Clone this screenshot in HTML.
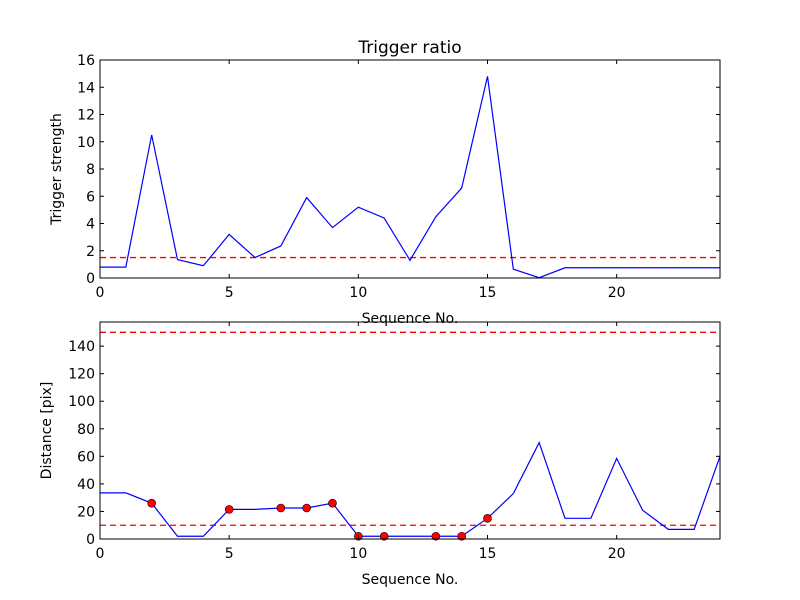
<!DOCTYPE html>
<html><head><meta charset="utf-8"><style>
body{margin:0;background:#fff}
svg{display:block;font-family:"DejaVu Sans","Liberation Sans",sans-serif}
</style></head><body>
<svg id="chart" width="800" height="600" viewBox="0 0 800 600"></svg>
<script>
const seqNos=[0,1,2,3,4,5,6,7,8,9,10,11,12,13,14,15,16,17,18,19,20,21,22,23,24];
const triggerStrength=[0.8,0.8,10.5,1.35,0.9,3.2,1.5,2.35,5.9,3.7,5.2,4.4,1.3,4.5,6.6,14.8,0.65,0.02,0.75,0.75,0.75,0.75,0.75,0.75,0.75];
const triggerThreshold=[1.5];
const distances=[33.5,33.5,26,2,2,21.5,21.5,22.5,22.5,26,2,2,2,2,2,15,33,70,15,15,58.5,21,7,7,60];
const distThresholds=[150,10];
const markedIdx=[2,5,7,8,9,10,11,13,14,15];
const xTicks=[0,5,10,15,20];
const yTicksTop=[0,2,4,6,8,10,12,14,16];
const yTicksBot=[0,20,40,60,80,100,120,140];

const NS="http://www.w3.org/2000/svg";
const svg=document.getElementById('chart');
function mk(tag,attrs,parent){const e=document.createElementNS(NS,tag);for(const k in attrs)e.setAttribute(k,attrs[k]);(parent||svg).appendChild(e);return e;}
function txt(s,attrs,name){const e=mk('text',attrs);e.textContent=s;


return e;}

function panel(cfg){
  const {L,R,T,B,ymax,name}=cfg;
  const xs=v=>L+(v-0)/(24-0)*(R-L);
  const ys=v=>B-(v/ymax)*(B-T);
  const g=mk('g',{});
  
  
  // thresholds
  cfg.thr.forEach(t=>{const l=mk('line',{x1:L,x2:R,y1:ys(t),y2:ys(t),stroke:'#ff0000','stroke-width':1.3,'stroke-dasharray':'6,4'},g);
    
    });
  // series
  const p=mk('polyline',{points:seqNos.map((x,i)=>xs(x)+','+ys(cfg.vals[i])).join(' '),fill:'none',stroke:'#0000ff','stroke-width':1.2},g);
  
  
  (cfg.markers||[]).forEach(i=>{const c=mk('circle',{cx:xs(seqNos[i]),cy:ys(cfg.vals[i]),r:4,fill:'#ff0000',stroke:'#000','stroke-width':0.6},g);
    
    });
  // frame
  const f=mk('rect',{x:L,y:T,width:R-L,height:B-T,fill:'none',stroke:'#000','stroke-width':1},g);
  
  
  xTicks.forEach(v=>{const x=xs(v);
    mk('line',{x1:x,x2:x,y1:B,y2:B-4,stroke:'#000'},g);mk('line',{x1:x,x2:x,y1:T,y2:T+4,stroke:'#000'},g);
    txt(String(v),{x:x,y:B+19,'text-anchor':'middle','font-size':14},'x-tick-label');});
  cfg.yt.forEach(v=>{const y=ys(v);
    mk('line',{x1:L,x2:L+4,y1:y,y2:y,stroke:'#000'},g);mk('line',{x1:R,x2:R-4,y1:y,y2:y,stroke:'#000'},g);
    txt(String(v),{x:L-5,y:y+5,'text-anchor':'end','font-size':14},'y-tick-label');});
  txt('Sequence No.',{x:(L+R)/2,y:B+45,'text-anchor':'middle','font-size':14},'x-axis-title');
  const yl=txt(cfg.ylabel,{x:0,y:0,'text-anchor':'middle','font-size':14,transform:`translate(${cfg.ylx},${(T+B)/2}) rotate(-90)`},'y-axis-title');
}
panel({L:100,R:720,T:60,B:278,ymax:16,vals:triggerStrength,thr:triggerThreshold,yt:yTicksTop,ylabel:'Trigger strength',ylx:61,name:'top-panel'});
panel({L:100,R:720,T:322,B:539,ymax:157.5,vals:distances,thr:distThresholds,yt:yTicksBot,markers:markedIdx,ylabel:'Distance [pix]',ylx:51,name:'bottom-panel'});
txt('Trigger ratio',{x:410,y:53,'text-anchor':'middle','font-size':17},'chart-title');
</script>
</body></html>
